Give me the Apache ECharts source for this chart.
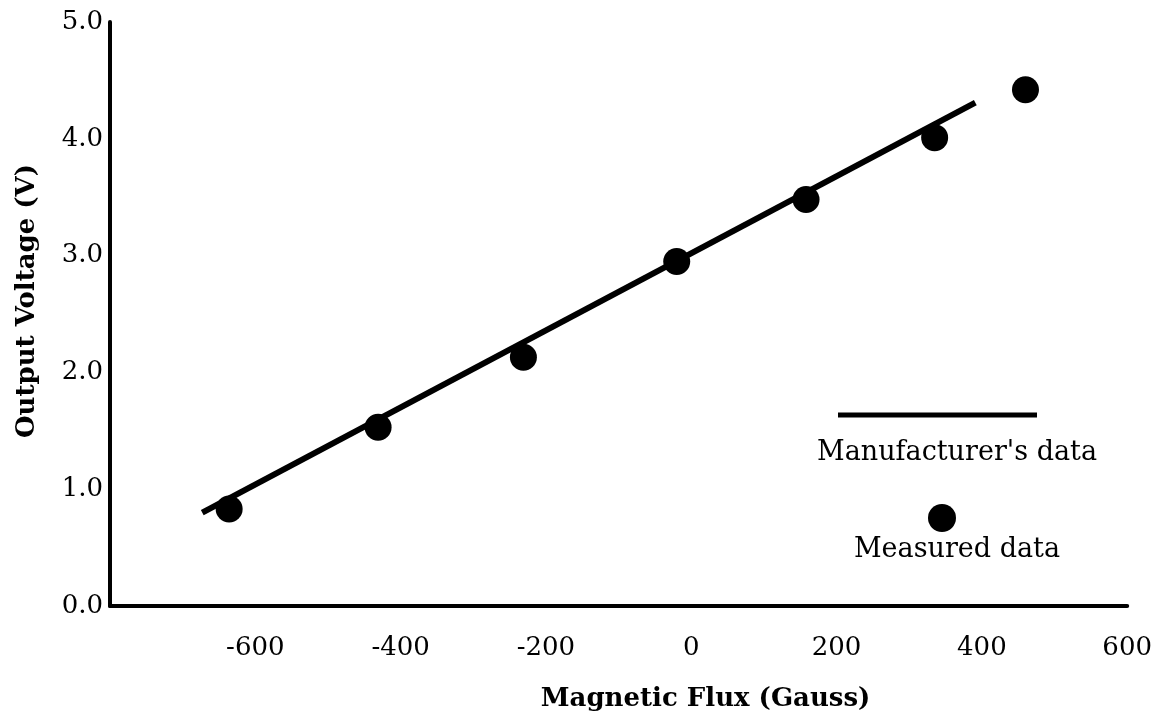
<!DOCTYPE html>
<html>
<head>
<meta charset="utf-8">
<script src="https://cdn.jsdelivr.net/npm/echarts@6/dist/echarts.min.js"></script>
<style>
  html, body { margin: 0; padding: 0; background: #fff; }
  #chart { width: 1155px; height: 717px; }
</style>
</head>
<body>
<div id="chart"></div>
<script>
// ---- data ----
const manufacturerX = [-673, 391];
const manufacturerY = [0.80, 4.31];
const measuredX = [-636, -431, -231, -20, 158, 335, 460];
const measuredY = [0.83, 1.53, 2.13, 2.95, 3.48, 4.01, 4.42];
const xTicks = [-600, -400, -200, 0, 200, 400, 600];
const yTicks = [0.0, 1.0, 2.0, 3.0, 4.0, 5.0];
const xTitle = 'Magnetic Flux (Gauss)';
const yTitle = 'Output Voltage (V)';
const legendLine = "Manufacturer's data";
const legendDot = 'Measured data';

const FONT = '"DejaVu Serif", "Liberation Serif", serif';

const chart = echarts.init(document.getElementById('chart'), null, { renderer: 'canvas' });

const option = {
  backgroundColor: '#ffffff',
  animation: false,
  grid: { left: 110, right: 20, top: 22, bottom: 111, containLabel: false },
  xAxis: {
    type: 'value',
    min: -800, max: 600, interval: 200,
    axisLine: { show: true, onZero: false, lineStyle: { color: '#000', width: 4 } },
    axisTick: { show: false },
    splitLine: { show: false },
    axisLabel: {
      showMinLabel: false,
      color: '#000', fontFamily: FONT, fontSize: 26, margin: 29,
      formatter: v => xTicks.includes(v) ? String(v) : ''
    },
    name: xTitle, nameLocation: 'middle', nameGap: 80,
    nameTextStyle: { color: '#000', fontFamily: FONT, fontSize: 26, fontWeight: 'bold', padding: [0, 0, 0, 174] }
  },
  yAxis: {
    type: 'value',
    min: 0, max: 5, interval: 1,
    axisLine: { show: true, onZero: false, lineStyle: { color: '#000', width: 4 } },
    axisTick: { show: false },
    splitLine: { show: false },
    axisLabel: {
      color: '#000', fontFamily: FONT, fontSize: 26, margin: 7,
      formatter: v => yTicks.includes(v) ? v.toFixed(1) : ''
    },
    name: yTitle, nameLocation: 'middle', nameGap: 70, nameRotate: 90,
    nameTextStyle: { color: '#000', fontFamily: FONT, fontSize: 26, fontWeight: 'bold', padding: [0, 0, 0, 26] }
  },
  series: [
    {
      name: legendLine,
      type: 'line',
      data: manufacturerX.map((x, i) => [x, manufacturerY[i]]),
      symbol: 'none',
      lineStyle: { color: '#000', width: 6, opacity: 1 },
      z: 2
    },
    {
      name: legendDot,
      type: 'scatter',
      data: measuredX.map((x, i) => [x, measuredY[i]]),
      symbol: 'circle',
      symbolSize: 27,
      itemStyle: { color: '#000', opacity: 1 },
      z: 3
    }
  ],
  graphic: [
    { type: 'line', shape: { x1: 838, y1: 415, x2: 1037, y2: 415 }, style: { stroke: '#000', lineWidth: 5 } },
    { type: 'text', x: 957, y: 453, style: { text: legendLine, fill: '#000', font: '27px ' + FONT, textAlign: 'center', textVerticalAlign: 'middle' } },
    { type: 'circle', shape: { cx: 942, cy: 518, r: 14 }, style: { fill: '#000' } },
    { type: 'text', x: 957, y: 550, style: { text: legendDot, fill: '#000', font: '27px ' + FONT, textAlign: 'center', textVerticalAlign: 'middle' } }
  ]
};

chart.setOption(option);
</script>
</body>
</html>
